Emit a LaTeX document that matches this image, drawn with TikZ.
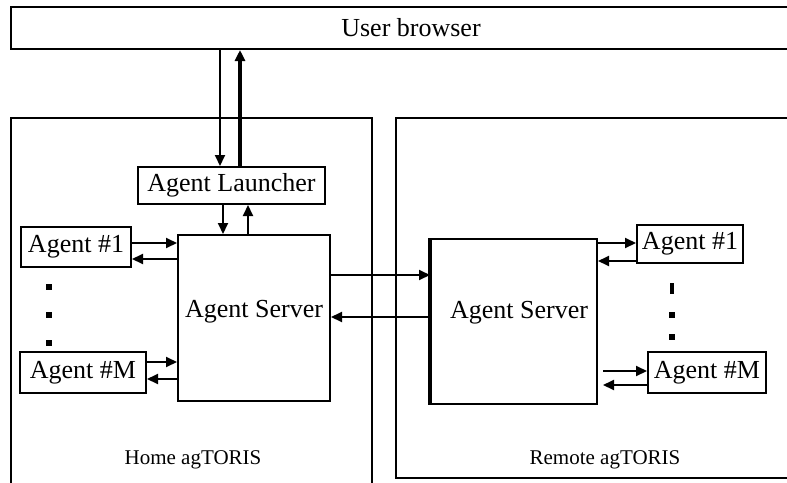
\documentclass[tikz,border=0pt]{standalone}
\usepackage{fontspec}
\setmainfont{Liberation Serif}
\usetikzlibrary{arrows.meta}

\tikzset{
  box/.style={draw, line width=2pt, inner sep=0pt, font=\fontsize{26}{30}\selectfont},
  area/.style={draw, line width=2pt, inner sep=0pt},
  txt/.style={inner sep=0pt, font=\fontsize{26}{30}\selectfont},
  arr/.style={line width=2pt, -{Triangle[length=11pt,width=10pt]}},
  tag/.style={font=\fontsize{21}{24}\selectfont}
}

\begin{document}
\begin{tikzpicture}[x=1pt,y=1pt,yscale=-1,xscale=1]
    \useasboundingbox (0,0) rectangle (787,482);

    %Shape: Rectangle [browser]
    \node[box, minimum width=800pt, minimum height=42pt] (browser) at (411,28) {User browser};
    %Shape: Rectangle [home]
    \node[area, minimum width=361pt, minimum height=382pt] (home) at (191.5,309) {};
    \node[tag] (homeLbl) at (193,460) {Home agTORIS};
    %Shape: Rectangle [remote]
    \node[area, minimum width=403pt, minimum height=360pt] (remote) at (597.5,298) {};
    \node[tag] (remoteLbl) at (605,460) {Remote agTORIS};

    %Shape: Rectangle [launcher]
    \node[box, minimum width=187pt, minimum height=37pt] (launcher) at (231.5,185.5) {Agent Launcher};
    %Shape: Rectangle [home server]
    \node[box, minimum width=152pt, minimum height=166pt] (hSrv) at (254,318) {};
    \node[txt] (hSrvLbl) at (254,312) {Agent Server};
    \node[box, minimum width=110pt, minimum height=40pt] (hA1) at (76,247) {Agent \#1};
    \node[box, minimum width=126pt, minimum height=41pt] (hAM) at (83,372.5) {Agent \#M};
    %Shape: Rectangle [remote server]
    \node[box, minimum width=166pt, minimum height=165pt] (rSrv) at (514,321.5) {};
    \node[txt] (rSrvLbl) at (519,313) {Agent Server};
    \draw[line width=3.5pt] (rSrv.north west) -- (rSrv.south west);
    \node[box, minimum width=106pt, minimum height=38pt] (rA1) at (690,244) {Agent \#1};
    \node[box, minimum width=118pt, minimum height=41pt] (rAM) at (707,372.5) {Agent \#M};

    %Dots
    \foreach \y in {287,315,343} \fill (46,\y-3) rectangle ++(6,6);
    \fill (670,283) rectangle ++(4,11);
    \foreach \y in {315,337} \fill (669,\y-3) rectangle ++(6,6);

    %Straight Lines [browser - launcher]
    \draw[arr] (browser.south -| 220,0) -- (launcher.north -| 220,0);
    \draw[arr, line width=3.5pt] (launcher.north -| 240,0) -- (browser.south -| 240,0);
    %Straight Lines [launcher - server]
    \draw[arr] (launcher.south -| 223,0) -- (hSrv.north -| 223,0);
    \draw[arr] (hSrv.north -| 248,0) -- (launcher.south -| 248,0);
    %Straight Lines [home agents]
    \draw[arr] (hA1.east |- 0,243) -- (hSrv.west |- 0,243);
    \draw[arr] (hSrv.west |- 0,259) -- (hA1.east |- 0,259);
    \draw[arr] (hAM.east |- 0,362) -- (hSrv.west |- 0,362);
    \draw[arr] (hSrv.west |- 0,379) -- (hAM.east |- 0,379);
    %Straight Lines [server - server]
    \draw[arr] (hSrv.east |- 0,275) -- (rSrv.west |- 0,275);
    \draw[arr] (rSrv.west |- 0,317) -- (hSrv.east |- 0,317);
    %Straight Lines [remote agents]
    \draw[arr] (rSrv.east |- 0,243) -- (rA1.west |- 0,243);
    \draw[arr] (rA1.west |- 0,261) -- (rSrv.east |- 0,261);
    \draw[arr] ([xshift=5pt]rSrv.east |- 0,371) -- (rAM.west |- 0,371);
    \draw[arr] (rAM.west |- 0,385) -- ([xshift=5pt]rSrv.east |- 0,385);

\end{tikzpicture}
\end{document}
